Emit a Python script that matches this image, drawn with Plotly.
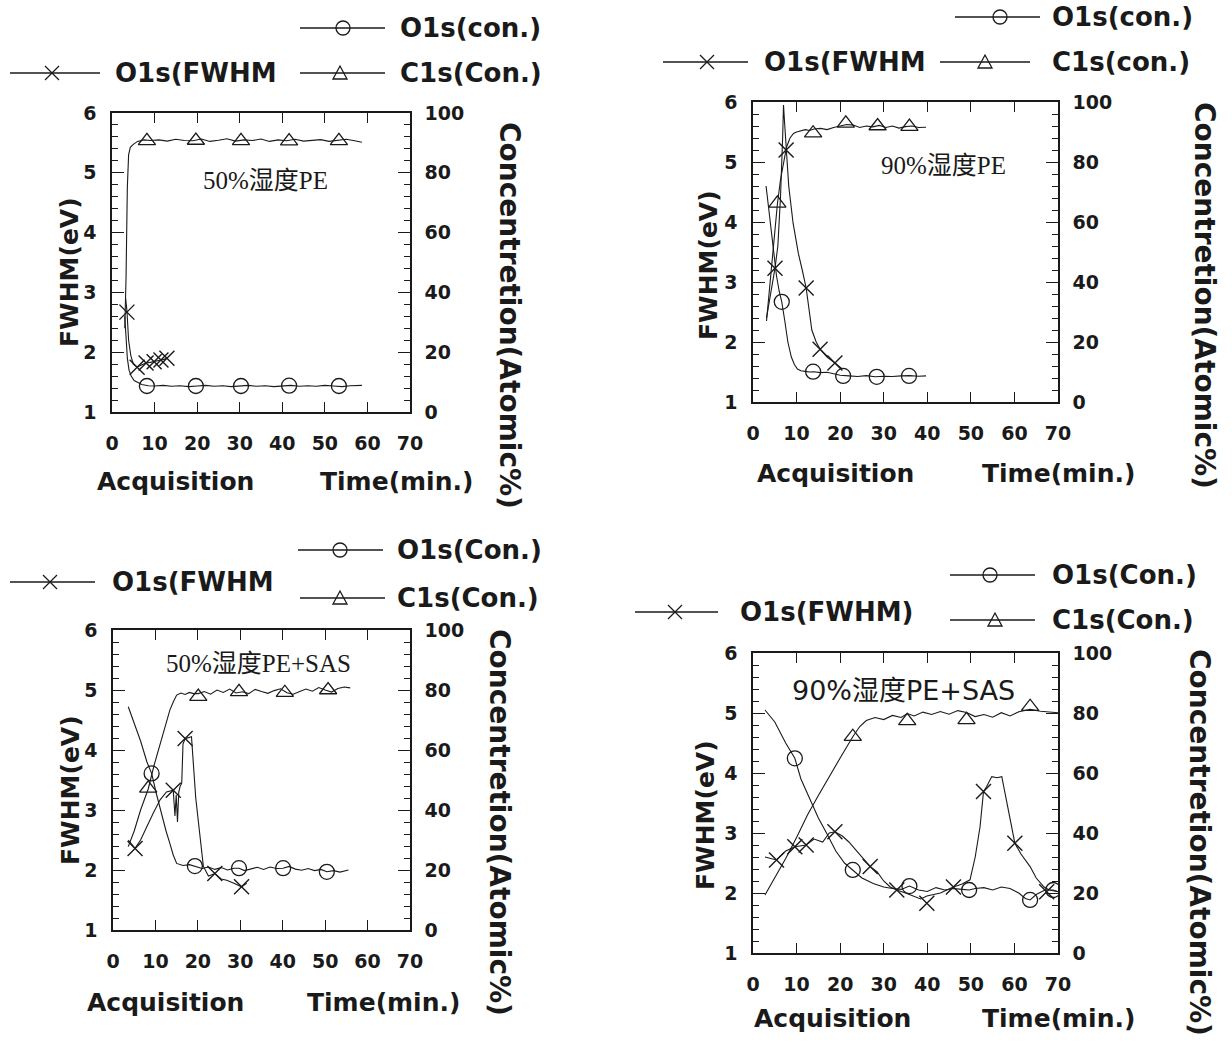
import plotly.graph_objects as go

W, H = 1232, 1042

# ---------------- Panel 1 : 50% 湿度 PE ----------------
p1_label = "50%湿度PE"
p1_fwhm_t = [3.2, 3.5, 3.9, 4.4, 5.0, 5.9, 7.0, 8.0, 9.0, 9.9, 10.8, 11.5, 12.2, 12.9]
p1_fwhm_v = [2.9, 2.7, 2.2, 1.95, 1.8, 1.75, 1.79, 1.82, 1.83, 1.84, 1.86, 1.87, 1.88, 1.9]
p1_fwhm_mk_t = [3.5, 5.9, 8.0, 9.9, 11.5, 12.9]
p1_fwhm_mk_v = [2.67, 1.75, 1.82, 1.84, 1.87, 1.90]
p1_o1s_t = [3.0, 3.3, 3.6, 4.0, 4.5, 5.2, 6.0, 7.0, 8.5, 10, 12, 14, 16, 18, 20, 22, 24, 26, 28, 30, 32,
            34, 36, 38, 40, 42, 44, 46, 48, 50, 52, 54, 56, 58.7]
p1_o1s_v = [32, 24, 18, 14, 12, 10.5, 9.8, 9.2, 8.8, 8.7, 8.9, 8.6, 8.8, 8.5, 8.7, 8.9, 8.6, 8.8, 8.5, 8.7, 8.9,
            8.6, 8.8, 8.5, 8.7, 8.9, 8.6, 8.8, 8.6, 8.9, 8.7, 8.5, 8.8, 8.9]
p1_o1s_mk_t = [8.2, 19.7, 30.3, 41.6, 53.3]
p1_o1s_mk_v = [8.7, 8.7, 8.7, 8.8, 8.7]
p1_c1s_t = [3.0, 3.3, 3.6, 3.9, 4.3, 5.0, 6.0, 7.5, 9, 11, 13, 15, 17, 19, 21, 23, 25, 27, 29, 31, 33, 35,
            37, 39, 41, 43, 45, 47, 49, 51, 53, 55, 57, 58.7]
p1_c1s_v = [28, 45, 75, 86, 88.5, 89.5, 90.5, 91, 90.8, 91, 90.6, 91.2, 90.8, 90.7, 91.3, 90.5, 90.9, 91.4,
            90.6, 91, 90.8, 91.3, 90.5, 91, 90.7, 91.2, 90.6, 90.9, 91.1, 90.5, 90.8, 91.2, 90.7, 90.2]
p1_c1s_mk_t = [8.2, 19.7, 30.3, 41.6, 53.3]
p1_c1s_mk_v = [90.7, 90.8, 90.7, 90.6, 90.7]

# ---------------- Panel 2 : 90% 湿度 PE ----------------
p2_label = "90%湿度PE"
p2_fwhm_t = [3.1, 4.0, 5.05, 5.7, 6.3, 6.8, 7.0, 7.3, 7.6, 8.2, 9.2, 10.4, 11.3, 12.2, 13.5, 14.5, 15.4, 17.0,
             18.8, 20.5]
p2_fwhm_v = [2.4, 2.8, 3.23, 3.6, 4.4, 5.4, 5.95, 5.6, 5.2, 4.6, 3.98, 3.48, 3.2, 2.9, 2.2, 2.0, 1.88, 1.75,
             1.65, 1.55]
p2_fwhm_mk_t = [5.05, 7.6, 12.2, 15.4, 18.8]
p2_fwhm_mk_v = [3.23, 5.2, 2.9, 1.88, 1.65]
p2_o1s_t = [3.0, 3.8, 4.6, 5.4, 6.0, 6.6, 7.3, 8.0, 8.8, 9.5, 10.2, 11, 12, 13, 14, 15.5, 17, 18.5, 20, 22,
            24, 26, 28, 30, 32, 34, 36, 38, 39.7]
p2_o1s_v = [72, 62, 52, 42, 37, 33.4, 27, 20, 15, 12.5, 11, 10.4, 10.2, 10, 10.1, 9.8, 9.9, 9.4, 8.9, 8.7,
            8.5, 8.8, 8.4, 8.6, 8.5, 8.7, 8.8, 8.6, 8.7]
p2_o1s_mk_t = [6.6, 13.8, 20.7, 28.4, 35.8]
p2_o1s_mk_v = [33.4, 10.1, 8.7, 8.4, 8.7]
p2_c1s_t = [3.1, 4.0, 5.0, 5.6, 6.3, 7.0, 7.7, 8.5, 9.3, 10, 11, 12, 13, 14, 15.5, 17, 18.5, 20, 21.5, 23,
            24.5, 26, 27.5, 29, 30.5, 32, 33.5, 35, 36.5, 38, 39.7]
p2_c1s_v = [27, 42, 58, 66, 74, 80, 85, 88, 89.5, 90, 90.5, 90.8, 90.5, 91, 91.2, 90.8, 91.5, 92, 92.5, 92.3,
            91.5, 92, 91.7, 92.2, 91.5, 92, 91.3, 91.8, 92, 91.5, 91.6]
p2_c1s_mk_t = [5.6, 13.8, 21.3, 28.6, 35.9]
p2_c1s_mk_v = [66.2, 89.6, 92.9, 92.0, 91.8]

# ---------------- Panel 3 : 50% 湿度 PE+SAS ----------------
p3_label = "50%湿度PE+SAS"
p3_fwhm_t = [3.6, 5.2, 6.5, 7.9, 9.5, 11.1, 12.6, 14.2, 14.6, 14.9, 15.2, 15.5, 15.8, 16.2, 16.5, 17.0, 18.5,
             19.5, 21.3, 22.5, 24.0, 25.5, 26.8, 28.5, 30.3, 31.5]
p3_fwhm_v = [2.5, 2.36, 2.5, 2.72, 2.95, 3.17, 3.3, 3.33, 2.9, 3.25, 2.8, 3.3, 3.39, 3.45, 4.1, 4.19, 4.22,
             3.2, 2.06, 1.9, 1.94, 1.85, 1.83, 1.78, 1.72, 1.78]
p3_fwhm_mk_t = [5.2, 14.2, 17.0, 24.0, 30.3]
p3_fwhm_mk_v = [2.36, 3.33, 4.19, 1.94, 1.72]
p3_o1s_t = [3.6, 5, 6.5, 8, 9.1, 10.3, 11.5, 12.5, 13.4, 14.2, 15, 16.5, 18, 19.3, 21, 22.5, 24, 25.5, 27,
            28.5, 29.7, 31, 32.5, 34, 35.5, 37, 38.5, 40.1, 41.5, 43, 44.5, 46, 47.5, 49, 50.4, 52, 53.5, 55.5]
p3_o1s_v = [74.4, 69, 63, 56, 52.2, 45, 38, 33, 28.9, 25, 22.2, 21.5, 21.8, 21.3, 20.5, 21, 20.2, 20.8, 20,
            20.6, 20.6, 19.8, 20.4, 20.9, 20.2, 21, 20.5, 20.6, 21.2, 20.3, 19.9, 20.5, 19.8, 20.2, 19.4, 19.8,
            19.3, 20.0]
p3_o1s_mk_t = [9.1, 19.3, 29.7, 40.1, 50.4]
p3_o1s_mk_v = [52.2, 21.3, 20.6, 20.6, 19.4]
p3_c1s_t = [3.6, 5, 6.5, 8.3, 9.7, 11.1, 12.3, 13.4, 14.2, 15, 16, 17, 18, 19, 20.1, 21.5, 23, 24.5, 26, 27.5,
            29, 30.5, 32, 33.5, 35, 36.5, 38, 39.5, 41, 42.5, 44, 45.5, 47, 48.5, 50, 51.5, 53, 54.5, 55.9]
p3_c1s_v = [27.8, 33, 40, 47, 55, 62, 68, 73.3, 76, 78.3, 79, 78.5, 79.2, 78.8, 78.8, 79.5, 78.6, 80, 79.2,
            80.3, 79, 79.4, 78.8, 80.2, 79.5, 78.9, 79.8, 80.4, 79.1, 78.6, 79.5, 80.3, 79.6, 80.8, 80, 79.3,
            80.5, 81, 80.7]
p3_c1s_mk_t = [8.3, 20.1, 29.7, 40.5, 50.7]
p3_c1s_mk_v = [47.2, 77.8, 79.4, 79.1, 80.0]

# ---------------- Panel 4 : 90% 湿度 PE+SAS ----------------
p4_label = "90%湿度PE+SAS"
p4_fwhm_t = [2.75, 5.4, 7.5, 9.6, 12.2, 14, 16, 17.5, 18.8, 20.5, 22, 23, 25, 26.9, 28.5, 30, 31.5, 33, 35,
             37, 38.5, 39.9, 41.5, 43, 44.5, 46, 48, 49.8, 51, 52.1, 52.9, 53.6, 54.8, 56, 57.1, 58.2, 59.2,
             60.1, 61.5, 63.6, 65, 66.8, 68, 70]
p4_fwhm_v = [2.6, 2.55, 2.7, 2.77, 2.8, 2.9, 2.85, 3.0, 3.02, 2.95, 2.85, 2.77, 2.6, 2.44, 2.35, 2.2, 2.1,
             2.05, 2.0, 1.95, 1.9, 1.95, 1.98, 2.0, 2.05, 2.1, 2.15, 2.22, 2.6, 3.1, 3.69, 3.77, 3.94, 3.92,
             3.94, 3.55, 3.2, 2.83, 2.65, 2.44, 2.25, 2.1, 2.05, 2.02]
p4_fwhm_mk_t = [5.4, 9.6, 12.2, 18.8, 26.9, 33.0, 39.9, 46.0, 52.9, 60.1, 67.4]
p4_fwhm_mk_v = [2.55, 2.77, 2.8, 3.02, 2.44, 2.05, 1.83, 2.1, 3.69, 2.83, 2.02]
p4_o1s_t = [2.75, 5, 7.5, 9.6, 11, 13.1, 15, 16.9, 19, 21, 22.9, 25, 27.6, 30, 32, 34, 35.9, 38, 40, 42, 44,
            46, 48, 49.6, 51, 53, 55, 57, 59, 61, 62.5, 63.6, 65, 67, 68.9, 70]
p4_o1s_v = [81, 77, 70, 64.9, 58, 51, 45, 39.9, 34, 30, 27.7, 25, 23.2, 22, 21.5, 21.2, 22.3, 21, 20.5, 21.8,
            21, 21.5, 21.2, 21, 21.5, 21.8, 21, 22, 21.5, 20, 18.2, 17.7, 19.5, 21, 21, 20.5]
p4_o1s_mk_t = [9.6, 22.9, 35.9, 49.6, 63.6, 68.9]
p4_o1s_mk_v = [64.9, 27.7, 22.3, 21.0, 17.7, 21.0]
p4_c1s_t = [2.75, 5, 7.5, 10, 12.5, 15, 17.5, 20, 22.9, 24.5, 26, 28, 30, 32, 34, 35.4, 37, 39, 41, 43, 45,
            47, 49, 51, 53, 55, 57, 59, 61, 63.6, 66, 68, 70]
p4_c1s_v = [19.3, 25, 31.5, 38.5, 46, 52.5, 59, 65, 72.1, 75.5, 77.5, 78.5, 77.8, 79.2, 78.5, 79.8, 79, 80.3,
            79.5, 80.5, 79.6, 80.8, 80.2, 78.8, 79.5, 78.6, 80.1, 79, 80.4, 81.2, 80.6, 80.3, 80.1]
p4_c1s_mk_t = [22.9, 35.4, 49.0, 63.6]
p4_c1s_mk_v = [72.1, 77.4, 77.7, 82.1]

# legend / axis texts
x_ticks = [0, 10, 20, 30, 40, 50, 60, 70]
fwhm_ticks = [1, 2, 3, 4, 5, 6]
conc_ticks = [0, 20, 40, 60, 80, 100]
title_left = "FWHM(eV)"
title_right = "Concentretion(Atomic%)"
title_x_a = "Acquisition"
title_x_b = "Time(min.)"

panels = [
    dict(box=(112, 410, 113, 412), label=p1_label, label_xy=(265, 180), label_font=("Liberation Serif, Noto Sans CJK SC", 25),
         fwhm=(p1_fwhm_t, p1_fwhm_v), fwhm_mk=(p1_fwhm_mk_t, p1_fwhm_mk_v),
         o1s=(p1_o1s_t, p1_o1s_v), o1s_mk=(p1_o1s_mk_t, p1_o1s_mk_v),
         c1s=(p1_c1s_t, p1_c1s_v), c1s_mk=(p1_c1s_mk_t, p1_c1s_mk_v),
         ylt=(70, 272), yrt=(510, 315), xta=(95, 481), xtb=(318, 481),
         leg=[("o", 300, 385, 343, 28, "O1s(con.)", 398),
              ("x", 10, 100, 52, 73, "O1s(FWHM", 113),
              ("t", 300, 385, 340, 73, "C1s(Con.)", 398)]),
    dict(box=(753, 1058, 102, 402), label=p2_label, label_xy=(943, 165), label_font=("Liberation Serif, Noto Sans CJK SC", 25),
         fwhm=(p2_fwhm_t, p2_fwhm_v), fwhm_mk=(p2_fwhm_mk_t, p2_fwhm_mk_v),
         o1s=(p2_o1s_t, p2_o1s_v), o1s_mk=(p2_o1s_mk_t, p2_o1s_mk_v),
         c1s=(p2_c1s_t, p2_c1s_v), c1s_mk=(p2_c1s_mk_t, p2_c1s_mk_v),
         ylt=(708, 265), yrt=(1205, 295), xta=(755, 473), xtb=(980, 473),
         leg=[("o", 955, 1040, 1000, 17, "O1s(con.)", 1050),
              ("x", 663, 748, 707, 62, "O1s(FWHM", 762),
              ("t", 940, 1030, 985, 62, "C1s(con.)", 1050)]),
    dict(box=(113, 410, 630, 930), label=p3_label, label_xy=(258, 663), label_font=("Liberation Serif, Noto Sans CJK SC", 25),
         fwhm=(p3_fwhm_t, p3_fwhm_v), fwhm_mk=(p3_fwhm_mk_t, p3_fwhm_mk_v),
         o1s=(p3_o1s_t, p3_o1s_v), o1s_mk=(p3_o1s_mk_t, p3_o1s_mk_v),
         c1s=(p3_c1s_t, p3_c1s_v), c1s_mk=(p3_c1s_mk_t, p3_c1s_mk_v),
         ylt=(70, 790), yrt=(500, 822), xta=(85, 1002), xtb=(305, 1002),
         leg=[("o", 298, 383, 340, 550, "O1s(Con.)", 395),
              ("x", 10, 95, 50, 582, "O1s(FWHM", 110),
              ("t", 300, 385, 340, 598, "C1s(Con.)", 395)]),
    dict(box=(753, 1058, 653, 953), label=p4_label, label_xy=(903, 690), label_font=("DejaVu Sans, Noto Sans CJK SC", 27),
         fwhm=(p4_fwhm_t, p4_fwhm_v), fwhm_mk=(p4_fwhm_mk_t, p4_fwhm_mk_v),
         o1s=(p4_o1s_t, p4_o1s_v), o1s_mk=(p4_o1s_mk_t, p4_o1s_mk_v),
         c1s=(p4_c1s_t, p4_c1s_v), c1s_mk=(p4_c1s_mk_t, p4_c1s_mk_v),
         ylt=(705, 815), yrt=(1200, 842), xta=(752, 1018), xtb=(980, 1018),
         leg=[("o", 950, 1035, 990, 575, "O1s(Con.)", 1050),
              ("x", 635, 718, 675, 612, "O1s(FWHM)", 738),
              ("t", 950, 1035, 995, 620, "C1s(Con.)", 1050)]),
]


def fx(x):
    return x / W


def fy(y):
    return 1 - y / H


INK = "#1a1a1a"
BOLD = dict(family="DejaVu Sans", color=INK, weight="bold")

fig = go.Figure()
layout = dict(width=W, height=H, autosize=False,
              margin=dict(l=0, r=0, t=0, b=0, pad=0, autoexpand=False),
              paper_bgcolor="white", plot_bgcolor="white", showlegend=False)
shapes = []
annotations = []

for i, p in enumerate(panels, start=1):
    x0, x1, y0, y1 = p["box"]
    xa = f"x{i}" if i > 1 else "x"
    yl = f"y{2 * i - 1}" if i > 1 else "y"
    yr = f"y{2 * i}"
    xkey = f"xaxis{i}" if i > 1 else "xaxis"
    ylkey = f"yaxis{2 * i - 1}" if i > 1 else "yaxis"
    yrkey = f"yaxis{2 * i}"

    layout[xkey] = dict(domain=[fx(x0), fx(x1)], anchor=yl, range=[0, 70], tickvals=x_ticks,
                        ticks="inside", ticklen=10, tickwidth=1.2, tickcolor=INK,
                        showline=True, linecolor=INK, linewidth=1.6, mirror="ticks",
                        showgrid=False, zeroline=False, ticklabelstandoff=13, automargin=False,
                        tickfont=dict(size=19, **BOLD))
    layout[ylkey] = dict(domain=[fy(y1), fy(y0)], anchor=xa, range=[1, 6], tickvals=fwhm_ticks,
                         ticks="inside", ticklen=12, tickwidth=1.2, tickcolor=INK,
                         minor=dict(dtick=0.2, ticks="inside", ticklen=6, tickcolor=INK, tickwidth=1),
                         showline=True, linecolor=INK, linewidth=1.6, showgrid=False, zeroline=False,
                         ticklabelstandoff=10, automargin=False, tickfont=dict(size=19, **BOLD))
    layout[yrkey] = dict(overlaying=yl, anchor=xa, side="right", range=[0, 100], tickvals=conc_ticks,
                         ticks="inside", ticklen=12, tickwidth=1.2, tickcolor=INK,
                         minor=dict(dtick=4, ticks="inside", ticklen=6, tickcolor=INK, tickwidth=1),
                         showline=True, linecolor=INK, linewidth=1.6, showgrid=False, zeroline=False,
                         ticklabelstandoff=9, automargin=False, tickfont=dict(size=19, **BOLD))

    line_style = dict(color=INK, width=1.1)
    fig.add_trace(go.Scatter(x=p["fwhm"][0], y=p["fwhm"][1], mode="lines", line=line_style,
                             xaxis=xa, yaxis=yl, name="O1s(FWHM)"))
    fig.add_trace(go.Scatter(x=p["o1s"][0], y=p["o1s"][1], mode="lines", line=line_style,
                             xaxis=xa, yaxis=yr, name="O1s(Con.)"))
    fig.add_trace(go.Scatter(x=p["c1s"][0], y=p["c1s"][1], mode="lines", line=line_style,
                             xaxis=xa, yaxis=yr, name="C1s(Con.)"))
    fig.add_trace(go.Scatter(x=p["fwhm_mk"][0], y=p["fwhm_mk"][1], mode="markers",
                             marker=dict(symbol="x-thin-open", size=15, color=INK, line=dict(color=INK, width=1.4)),
                             xaxis=xa, yaxis=yl, name="O1s(FWHM)"))
    fig.add_trace(go.Scatter(x=p["o1s_mk"][0], y=p["o1s_mk"][1], mode="markers",
                             marker=dict(symbol="circle-open", size=15, color=INK, line=dict(color=INK, width=1.3)),
                             xaxis=xa, yaxis=yr, name="O1s(Con.)"))
    fig.add_trace(go.Scatter(x=p["c1s_mk"][0], y=p["c1s_mk"][1], mode="markers",
                             marker=dict(symbol="triangle-up-open", size=15, color=INK, line=dict(color=INK, width=1.3)),
                             xaxis=xa, yaxis=yr, name="C1s(Con.)"))

    fam, sz = p["label_font"]
    annotations.append(dict(text=p["label"], x=fx(p["label_xy"][0]), y=fy(p["label_xy"][1]),
                            xref="paper", yref="paper", showarrow=False, xanchor="center", yanchor="middle",
                            font=dict(family=fam, size=sz, color=INK)))
    annotations.append(dict(text=title_left, x=fx(p["ylt"][0]), y=fy(p["ylt"][1]), xref="paper", yref="paper",
                            showarrow=False, textangle=-90, xanchor="center", yanchor="middle",
                            font=dict(size=25, **BOLD)))
    annotations.append(dict(text=title_right, x=fx(p["yrt"][0]), y=fy(p["yrt"][1]), xref="paper", yref="paper",
                            showarrow=False, textangle=90, xanchor="center", yanchor="middle",
                            font=dict(size=28, **BOLD)))
    annotations.append(dict(text=title_x_a, x=fx(p["xta"][0]), y=fy(p["xta"][1]), xref="paper", yref="paper",
                            showarrow=False, xanchor="left", yanchor="middle", font=dict(size=25, **BOLD)))
    annotations.append(dict(text=title_x_b, x=fx(p["xtb"][0]), y=fy(p["xtb"][1]), xref="paper", yref="paper",
                            showarrow=False, xanchor="left", yanchor="middle", font=dict(size=25, **BOLD)))

    for sym, lx0, lx1, mx, ly, txt, tx in p["leg"]:
        shapes.append(dict(type="line", xref="paper", yref="paper", x0=fx(lx0), x1=fx(lx1), y0=fy(ly), y1=fy(ly),
                           line=dict(color=INK, width=1.3)))
        r = 7
        if sym == "o":
            shapes.append(dict(type="circle", xref="paper", yref="paper", x0=fx(mx - r), x1=fx(mx + r),
                               y0=fy(ly + r), y1=fy(ly - r), line=dict(color=INK, width=1.3)))
        elif sym == "t":
            path = (f"M {fx(mx - r)} {fy(ly + 6)} L {fx(mx + r)} {fy(ly + 6)} "
                    f"L {fx(mx)} {fy(ly - 7)} Z")
            shapes.append(dict(type="path", xref="paper", yref="paper", path=path,
                               line=dict(color=INK, width=1.3)))
        else:
            shapes.append(dict(type="line", xref="paper", yref="paper", x0=fx(mx - r), x1=fx(mx + r),
                               y0=fy(ly - r), y1=fy(ly + r), line=dict(color=INK, width=1.3)))
            shapes.append(dict(type="line", xref="paper", yref="paper", x0=fx(mx - r), x1=fx(mx + r),
                               y0=fy(ly + r), y1=fy(ly - r), line=dict(color=INK, width=1.3)))
        annotations.append(dict(text=txt, x=fx(tx), y=fy(ly), xref="paper", yref="paper", showarrow=False,
                                xanchor="left", yanchor="middle", font=dict(size=26, **BOLD)))

layout["shapes"] = shapes
layout["annotations"] = annotations
fig.update_layout(**layout)
fig.write_html("out.html", config={"displayModeBar": False},
               post_script="document.body.style.margin='0';")
